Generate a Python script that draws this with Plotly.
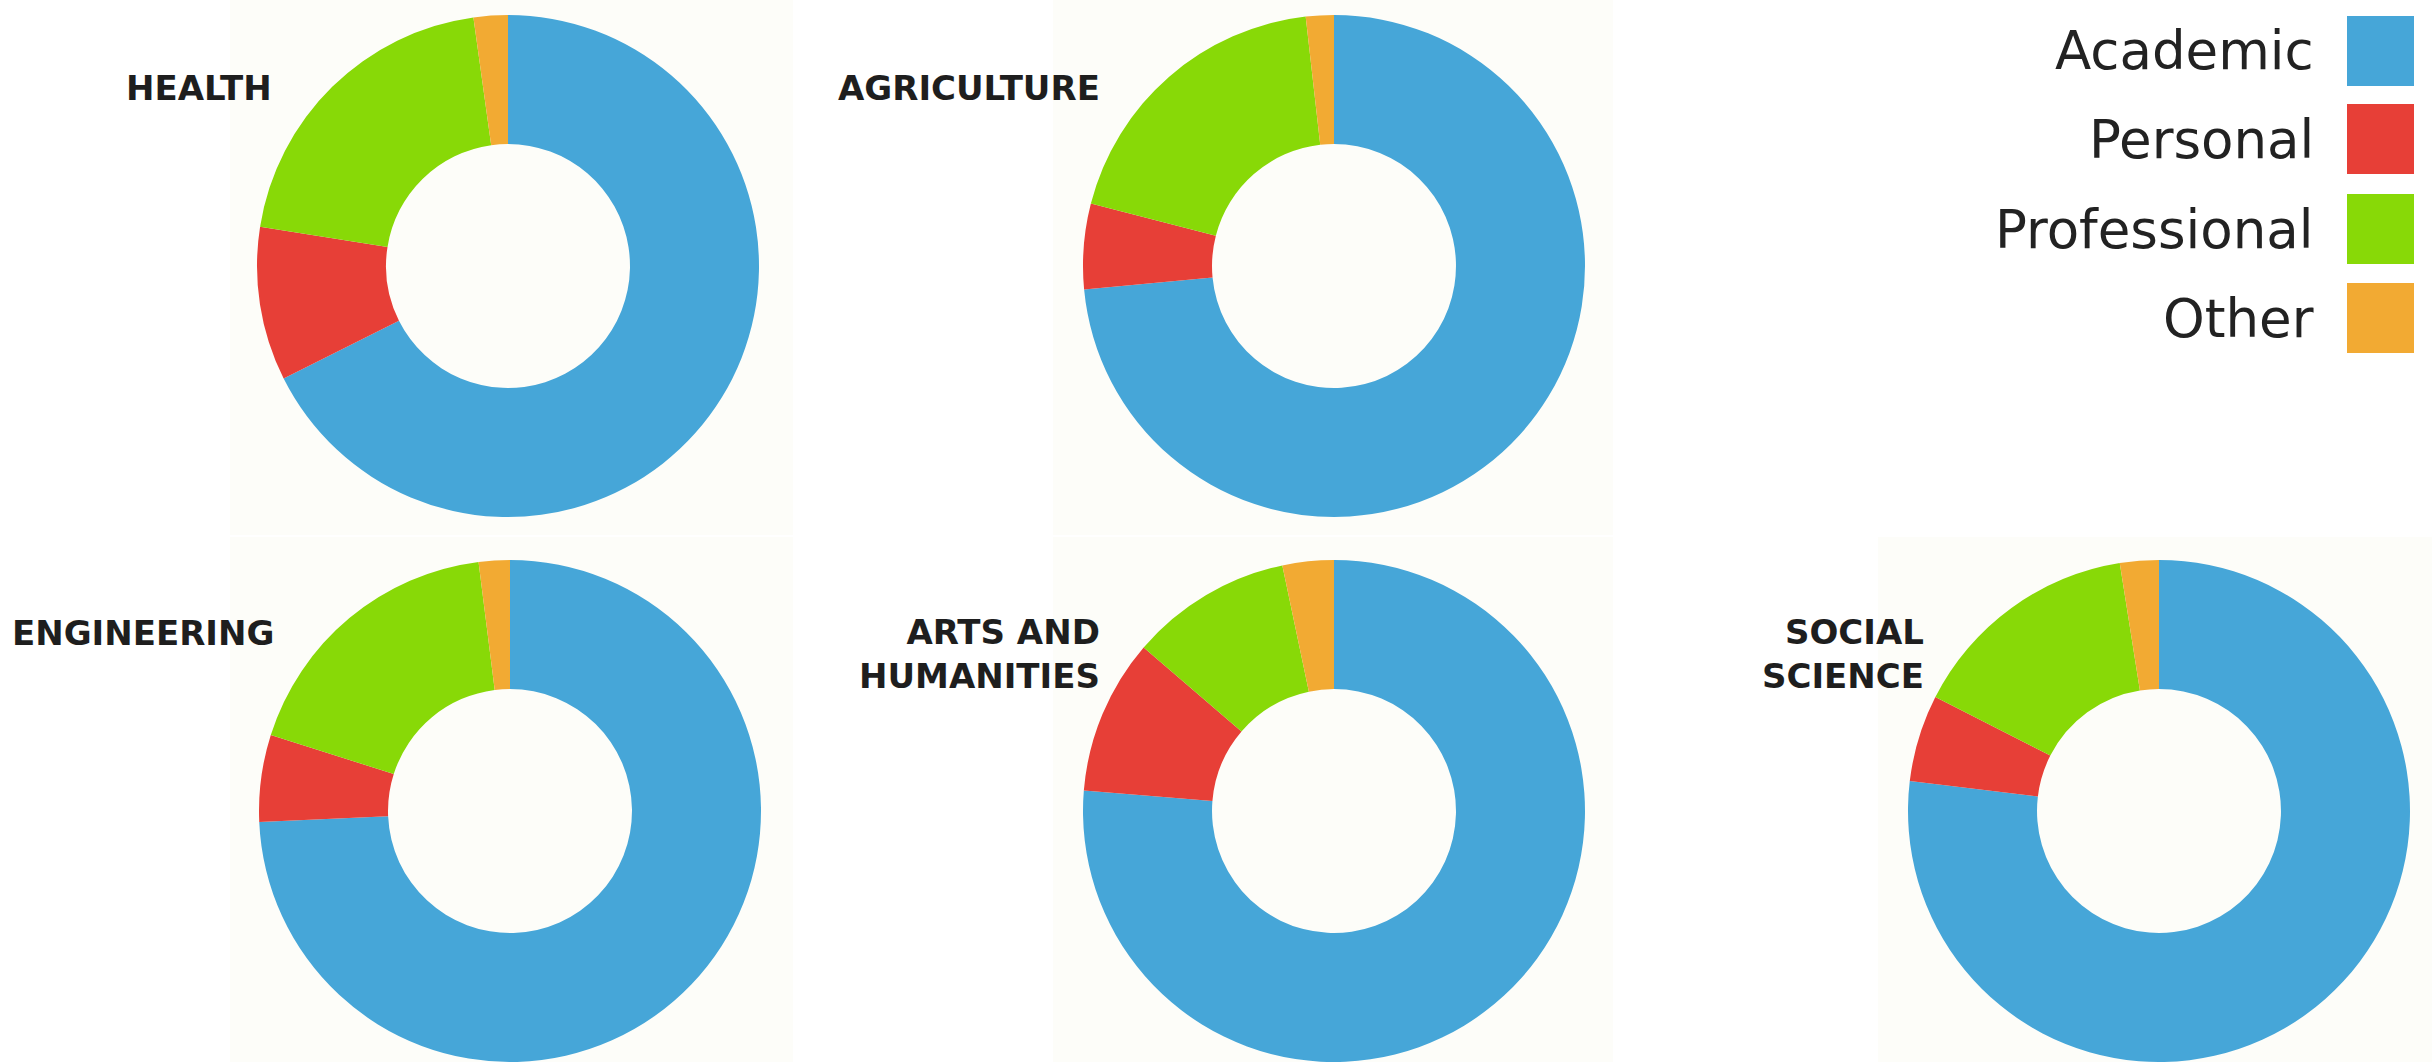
import plotly.graph_objects as go

W, H = 2432, 1062

categories = ["Academic", "Personal", "Professional", "Other"]
colors = ["#46A6D8", "#E73F37", "#88D907", "#F2AA33"]

fields = ["HEALTH", "AGRICULTURE", "ENGINEERING", "ARTS AND<br>HUMANITIES", "SOCIAL<br>SCIENCE"]
health = [67.6, 9.9, 20.3, 2.2]
agriculture = [73.5, 5.5, 19.2, 1.8]
engineering = [74.3, 5.6, 18.1, 2.0]
arts_humanities = [76.3, 10.0, 10.4, 3.3]
social_science = [76.9, 5.6, 15.0, 2.5]
series = [health, agriculture, engineering, arts_humanities, social_science]

# layout (pixel positions): pie centres, radius, label anchors
centers = [(508, 266), (1334, 266), (510, 811), (1334, 811), (2159, 811)]
R = 251
label_pos = [(274, 88), (1102, 88), (276, 633), (1102, 654), (1926, 654)]
panels = [(230, 0, 793, 535), (1053, 0, 1613, 535), (230, 537, 793, 1062),
          (1053, 537, 1613, 1062), (1878, 537, 2432, 1062)]


def clamp(v):
    return min(1.0, max(0.0, v))


fig = go.Figure()
for name, vals, (cx, cy) in zip(fields, series, centers):
    fig.add_trace(go.Pie(
        labels=categories, values=vals, hole=0.486, sort=False,
        direction="clockwise", rotation=0,
        marker=dict(colors=colors, line=dict(width=0)),
        textinfo="none", showlegend=False,
        name=name.replace("<br>", " "),
        hovertemplate="%{label}: %{percent}<extra></extra>",
        domain=dict(x=[clamp((cx - R) / W), clamp((cx + R) / W)],
                    y=[clamp(1 - (cy + R) / H), clamp(1 - (cy - R) / H)]),
    ))

shapes = []
for (x0, y0, x1, y1) in panels:
    shapes.append(dict(type="rect", xref="paper", yref="paper", layer="below",
                       x0=x0 / W, x1=x1 / W, y0=1 - y1 / H, y1=1 - y0 / H,
                       fillcolor="#FDFDF9", line=dict(width=0)))

annotations = []
for name, (lx, ly) in zip(fields, label_pos):
    annotations.append(dict(
        text="<b>" + name + "</b>", xref="paper", yref="paper",
        x=lx / W, y=1 - ly / H, xanchor="right", yanchor="middle",
        align="right", showarrow=False,
        font=dict(family="DejaVu Sans", size=34, color="#1E1E1E")))

# manual legend: text on the left, swatch on the right
leg_y = [51, 139, 229, 318]
for cat, col, yy in zip(categories, colors, leg_y):
    shapes.append(dict(type="rect", xref="paper", yref="paper",
                       x0=2347 / W, x1=2414 / W,
                       y0=1 - (yy + 35) / H, y1=1 - (yy - 35) / H,
                       fillcolor=col, line=dict(width=0)))
    annotations.append(dict(
        text=cat, xref="paper", yref="paper", x=2316 / W, y=1 - yy / H,
        xanchor="right", yanchor="middle", showarrow=False,
        font=dict(family="DejaVu Sans", size=53, color="#222222")))

fig.update_layout(
    width=W, height=H, margin=dict(l=0, r=0, t=0, b=0),
    paper_bgcolor="white", plot_bgcolor="white",
    shapes=shapes, annotations=annotations,
)

fig.write_html(
    "out.html",
    config={"displayModeBar": False},
    post_script="document.body.style.margin='0';document.body.style.overflow='hidden';",
)
